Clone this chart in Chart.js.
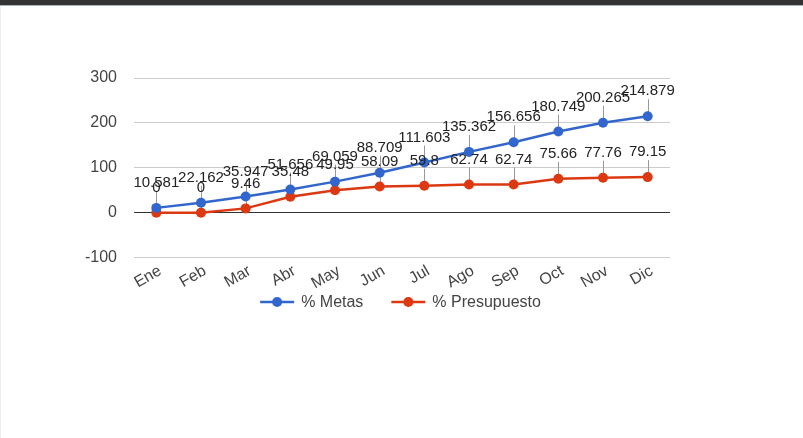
<!DOCTYPE html>
<html>
<head>
<meta charset="utf-8">
<script src="https://cdn.jsdelivr.net/npm/chart.js@4/dist/chart.umd.min.js"></script>
<style>
  html, body { margin: 0; padding: 0; background: #fff; width: 803px; height: 438px; overflow: hidden; }
  #bar { position: absolute; left: 0; top: 0; width: 803px; height: 5px; background: #333; border-bottom: 1px solid #a9b3bc; z-index: 2; }
  #edge { position: absolute; left: 0; top: 6px; width: 1px; height: 432px; background: #eee; z-index: 2; }
  #wrap { position: absolute; left: 0; top: 0; width: 803px; height: 438px; }
</style>
</head>
<body>
<div id="bar"></div>
<div id="edge"></div>
<div id="wrap"><canvas id="c" width="803" height="438"></canvas></div>
<script>
const categories = ['Ene','Feb','Mar','Abr','May','Jun','Jul','Ago','Sep','Oct','Nov','Dic'];
const metas = [10.581, 22.162, 35.947, 51.656, 69.059, 88.709, 111.603, 135.362, 156.656, 180.749, 200.265, 214.879];
const presupuesto = [0, 0, 9.46, 35.48, 49.95, 58.09, 59.8, 62.74, 62.74, 75.66, 77.76, 79.15];
const metasLabel = '% Metas';
const presupuestoLabel = '% Presupuesto';
const yTicks = [-100, 0, 100, 200, 300];

const BLUE = '#3366cc';
const RED = '#dc3912';
const FONT = '"Liberation Sans", Arial, sans-serif';

const annotationPlugin = {
  id: 'annotations',
  beforeDatasetsDraw(chart) {
    const ctx = chart.ctx;
    ctx.save();
    ctx.strokeStyle = '#999';
    ctx.lineWidth = 1;
    chart.data.datasets.forEach((ds, di) => {
      const meta = chart.getDatasetMeta(di);
      meta.data.forEach(pt => {
        const x = Math.round(pt.x) + 0.5;
        ctx.beginPath();
        ctx.moveTo(x, pt.y);
        ctx.lineTo(x, pt.y - 17);
        ctx.stroke();
      });
    });
    ctx.restore();
  },
  afterDatasetsDraw(chart) {
    const ctx = chart.ctx;
    ctx.save();
    ctx.font = '15px ' + FONT;
    ctx.fillStyle = '#222';
    ctx.textAlign = 'center';
    ctx.textBaseline = 'middle';
    chart.data.datasets.forEach((ds, di) => {
      const meta = chart.getDatasetMeta(di);
      meta.data.forEach((pt, i) => {
        ctx.fillText(String(ds.data[i]), pt.x, pt.y - 25);
      });
    });
    ctx.restore();
  }
};

const legendPlugin = {
  id: 'customLegend',
  afterDraw(chart) {
    const ctx = chart.ctx;
    ctx.save();
    ctx.font = '16px ' + FONT;
    ctx.textBaseline = 'middle';
    const lineW = 34, gapText = 7, gapItem = 28;
    const items = chart.data.datasets.map(ds => ({ label: ds.label, color: ds.borderColor, w: ctx.measureText(ds.label).width }));
    let total = 0;
    items.forEach((it, i) => { total += lineW + gapText + it.w + (i < items.length - 1 ? gapItem : 0); });
    const cx = (chart.chartArea.left + chart.chartArea.right) / 2 - 1.5;
    let x = cx - total / 2;
    const y = 302;
    items.forEach(it => {
      ctx.strokeStyle = it.color;
      ctx.lineWidth = 2.5;
      ctx.beginPath();
      ctx.moveTo(x, y);
      ctx.lineTo(x + lineW, y);
      ctx.stroke();
      ctx.fillStyle = it.color;
      ctx.beginPath();
      ctx.arc(x + lineW / 2, y, 5, 0, Math.PI * 2);
      ctx.fill();
      ctx.fillStyle = '#444';
      ctx.textAlign = 'left';
      ctx.fillText(it.label, x + lineW + gapText, y + 1);
      x += lineW + gapText + it.w + gapItem;
    });
    ctx.restore();
  }
};

new Chart(document.getElementById('c'), {
  type: 'line',
  data: {
    labels: categories,
    datasets: [
      { label: metasLabel, data: metas, borderColor: BLUE, backgroundColor: BLUE, borderWidth: 2.5, pointRadius: 5, pointBorderWidth: 0, pointBackgroundColor: BLUE, tension: 0 },
      { label: presupuestoLabel, data: presupuesto, borderColor: RED, backgroundColor: RED, borderWidth: 2.5, pointRadius: 5, pointBorderWidth: 0, pointBackgroundColor: RED, tension: 0 }
    ]
  },
  options: {
    responsive: false,
    animation: false,
    layout: { padding: { top: 78, right: 133, bottom: 0, left: 0 } },
    plugins: { legend: { display: false }, tooltip: { enabled: false } },
    scales: {
      x: {
        offset: true,
        grid: { display: false },
        border: { display: false },
        ticks: { font: { family: FONT, size: 16 }, color: '#444', minRotation: 30, maxRotation: 30, padding: -4, labelOffset: 4, autoSkip: false },
        afterFit(scale) { scale.height = 180.5; }
      },
      y: {
        min: -100, max: 300,
        afterBuildTicks(scale) { scale.ticks = yTicks.map(v => ({ value: v })); },
        grid: {
          drawTicks: false,
          color: ctx => (ctx.tick && ctx.tick.value === 0) ? '#333' : '#ccc',
          lineWidth: 1
        },
        border: { display: false },
        ticks: { font: { family: FONT, size: 16 }, color: '#444', padding: 17 },
        afterFit(scale) { scale.width = 134; }
      }
    }
  },
  plugins: [annotationPlugin, legendPlugin]
});
</script>
</body>
</html>
